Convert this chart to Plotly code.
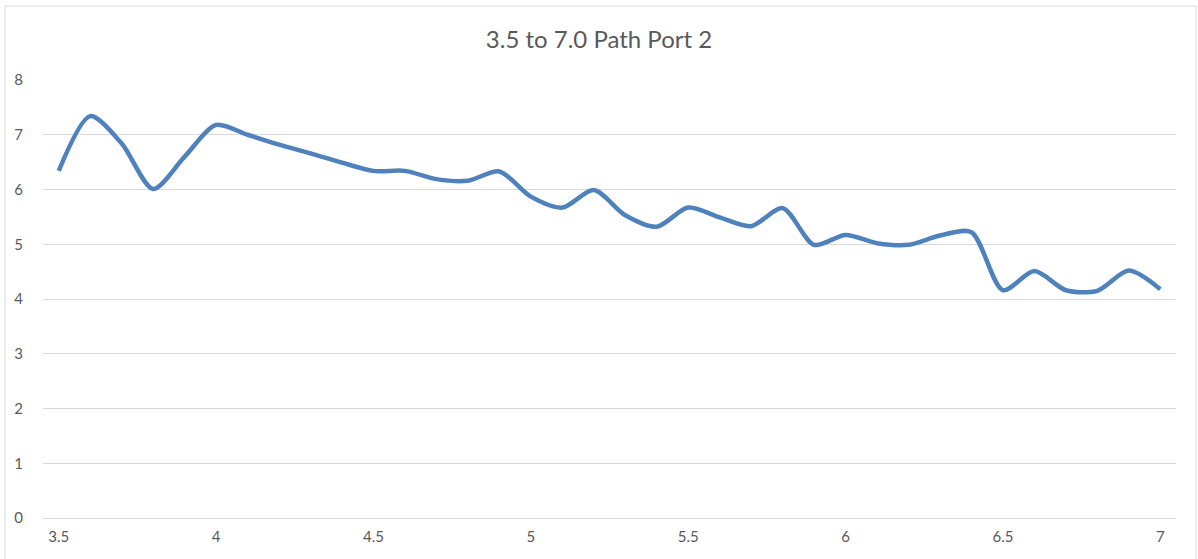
import plotly.graph_objects as go


# ==================================
# DATA
# ==================================

x_values = [
    3.5, 3.6, 3.7, 3.8, 3.9, 4.0, 4.1, 4.2, 4.3, 4.4,
    4.5, 4.6, 4.7, 4.8, 4.9, 5.0, 5.1, 5.2, 5.3, 5.4,
    5.5, 5.6, 5.7, 5.8, 5.9, 6.0, 6.1, 6.2, 6.3, 6.4,
    6.5, 6.6, 6.7, 6.8, 6.9, 7.0
]

y_values = [
    6.34, 7.34, 6.84, 6.01, 6.60, 7.18, 7.00, 6.82, 6.66, 6.49,
    6.34, 6.34, 6.19, 6.16, 6.33, 5.87, 5.67, 5.99, 5.53, 5.32,
    5.67, 5.49, 5.33, 5.66, 4.99, 5.17, 5.02, 4.99, 5.16, 5.22,
    4.16, 4.51, 4.16, 4.15, 4.52, 4.18
]

x_ticks = [3.5, 4, 4.5, 5, 5.5, 6, 6.5, 7]
y_ticks = [0, 1, 2, 3, 4, 5, 6, 7, 8]


# ==================================
# LINE CHART
# ==================================

fig = go.Figure()

fig.add_trace(
    go.Scatter(
        x=x_values,
        y=y_values,
        mode="lines",
        line=dict(color="#4f81bd", width=4.5, shape="spline", smoothing=0.8),
        showlegend=False
    )
)

fig.update_layout(
    width=1198,
    height=559,
    margin=dict(l=43, r=22, t=80, b=41, autoexpand=False),
    paper_bgcolor="white",
    plot_bgcolor="white",
    font=dict(family="Lato, Open Sans, sans-serif", color="#595959", size=15),
    title=dict(
        text="3.5 to 7.0 Path Port 2",
        x=0.5,
        xanchor="center",
        y=0.93,
        yanchor="middle",
        font=dict(size=24, color="#595959")
    )
)

fig.update_xaxes(
    range=[3.45, 7.05],
    tickvals=x_ticks,
    ticktext=[str(t) for t in x_ticks],
    showgrid=False,
    zeroline=False,
    showline=False,
    ticks="",
    automargin=False,
    ticklabelstandoff=8
)

fig.update_yaxes(
    range=[0, 8],
    tickvals=y_ticks,
    showgrid=True,
    gridcolor="#d9d9d9",
    gridwidth=1,
    zeroline=True,
    zerolinecolor="#d9d9d9",
    zerolinewidth=1,
    showline=False,
    ticks="",
    automargin=False,
    ticklabelstandoff=19
)

# chart border like the spreadsheet chart frame
fig.add_shape(
    type="rect",
    xref="paper", yref="paper",
    x0=(5 - 43) / 1133, x1=(1196 - 43) / 1133,
    y0=-0.2, y1=(518 - 6) / 438,
    line=dict(color="#d9d9d9", width=1),
    layer="below"
)

fig.write_html(
    "out.html",
    config={"displayModeBar": False},
    post_script="document.body.style.margin='0px';"
)
